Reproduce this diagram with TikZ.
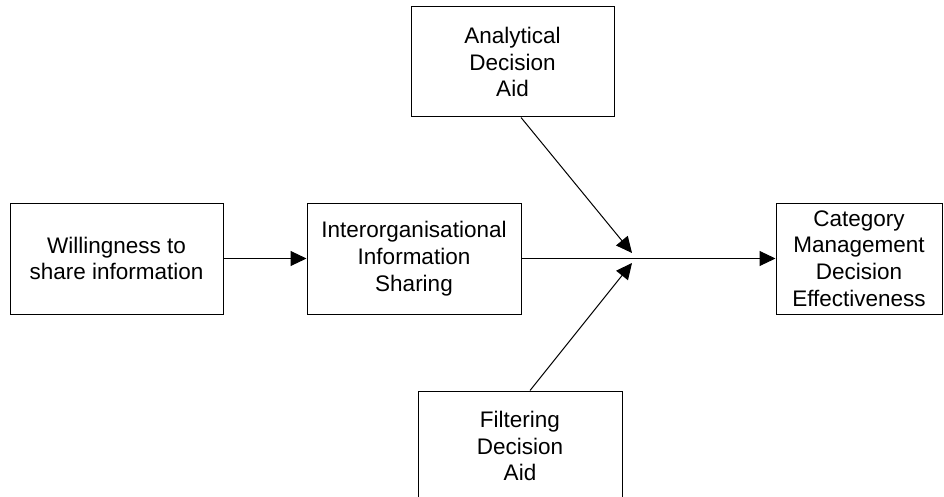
\documentclass[tikz,border=0pt]{standalone}
\usepackage{fontspec}
\setmainfont{Liberation Sans}
\usetikzlibrary{arrows.meta}
\tikzset{
  box/.style={draw=black, line width=1pt, inner sep=0pt, align=center,
    font=\fontsize{22.5}{26.7}\selectfont},
  conn/.style={line width=1pt, -{Triangle[length=16pt,width=15pt]}}
}
\begin{document}
\begin{tikzpicture}[x=1pt,y=-1pt]
\clip (0,0) rectangle (944,497);
\fill[white] (0,0) rectangle (944,497);
\node[box, minimum width=213pt, minimum height=111pt] (will) at (116.5,258.5) {Willingness to\\share information};
\node[box, minimum width=214pt, minimum height=111pt] (inter) at (414,258.5) {Interorganisational\\Information\\Sharing};
\node[box, minimum width=203pt, minimum height=110pt] (ana) at (512.5,62) {Analytical\\Decision\\Aid};
\node[box, minimum width=204pt, minimum height=110pt] (fil) at (520,446) {Filtering\\Decision\\Aid};
\node[box, minimum width=166pt, minimum height=111pt] (cat) at (859,258.5) {Category\\Management\\Decision\\Effectiveness};
\coordinate (j1) at (632,253);
\coordinate (j2) at (632,263);
\draw[conn] (will.east) -- (inter.west);
\draw[conn] (inter.east) -- (cat.west);
\draw[conn] ([xshift=8.5pt]ana.south) -- (j1);
\draw[conn] ([xshift=10pt]fil.north) -- (j2);
\end{tikzpicture}
\end{document}
